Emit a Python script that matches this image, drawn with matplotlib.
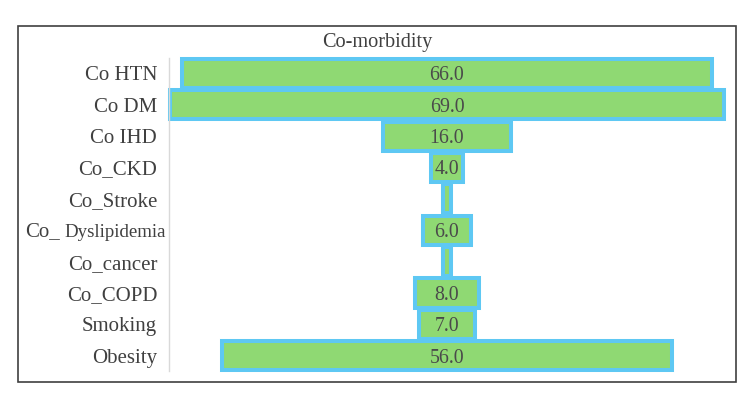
import matplotlib
matplotlib.use("Agg")
import matplotlib.pyplot as plt
from matplotlib.patches import Rectangle
from matplotlib.transforms import blended_transform_factory

categories = ["Co HTN", "Co DM", "Co IHD", "Co_CKD", "Co_Stroke",
              "Co_ Dyslipidemia", "Co_cancer", "Co_COPD", "Smoking", "Obesity"]
values = [66, 69, 16, 4, 0, 6, 0, 8, 7, 56]
title = "Co-morbidity"

FILL = "#8fd973"
EDGE = "#5ec8f3"
TXT = "#404040"
VAL_TXT = "#4a4a4a"
MIN_W = 1.0  # minimum drawn width so empty rows stay visible

plt.rcParams['font.family'] = ['Liberation Serif', 'DejaVu Serif']

W, H = 750, 401
fig = plt.figure(figsize=(W / 100, H / 100), dpi=100)

# outer frame
fig.patches.append(Rectangle((18 / W, 1 - 382 / H), (736 - 18) / W, (382 - 26) / H,
                             transform=fig.transFigure, fill=False,
                             edgecolor="#404040", linewidth=1.2))

ax_l, ax_r, ax_t, ax_b = 169, 725, 57.7, 371.4
ax = fig.add_axes([ax_l / W, 1 - ax_b / H, (ax_r - ax_l) / W, (ax_b - ax_t) / H])

n = len(categories)
ys = list(range(n))
widths = [max(v, MIN_W) for v in values]
bars = ax.barh(ys, widths, left=[-w / 2 for w in widths], height=0.93,
               color=FILL, edgecolor=EDGE, linewidth=2.9)
for b in bars:
    b.set_clip_on(False)

for y, v in zip(ys, values):
    if v > 0:
        ax.text(0, y, f"{v:.1f}", ha="center", va="center_baseline",
                fontsize=14.3, color=VAL_TXT)

ax.set_xlim(-(447 - ax_l) / 8.04, (ax_r - 447) / 8.04)
ax.set_ylim(n - 0.5, -0.5)
ax.set_yticks(ys)

# tick labels; a label with "_ " gets a smaller second part, as in the source
tick_labels = []
trans = blended_transform_factory(ax.transAxes, ax.transData)
for y, c in zip(ys, categories):
    if "_ " in c:
        prefix, rest = c.split("_ ", 1)
        tick_labels.append("")
        t2 = ax.text((166 - ax_l) / (ax_r - ax_l), y, rest, transform=trans,
                     ha="right", va="center_baseline", fontsize=13.6, color=TXT)
        ax.annotate(prefix + "_", xy=(0, 0), xycoords=t2, xytext=(-3.5, 0),
                    textcoords="offset points", ha="right", va="bottom",
                    fontsize=15, color=TXT)
    else:
        tick_labels.append(c)
ax.set_yticklabels(tick_labels, fontsize=15, color=TXT)
ax.tick_params(axis="y", length=0, pad=8.5)
ax.set_xticks([])
for s in ["top", "right", "bottom"]:
    ax.spines[s].set_visible(False)
ax.spines["left"].set_color("#d9d9d9")
ax.spines["left"].set_linewidth(1)

fig.text(377 / W, 1 - 42 / H, title, ha="center", va="center", fontsize=14.6, color=TXT)

fig.savefig("out.png", dpi=100)
